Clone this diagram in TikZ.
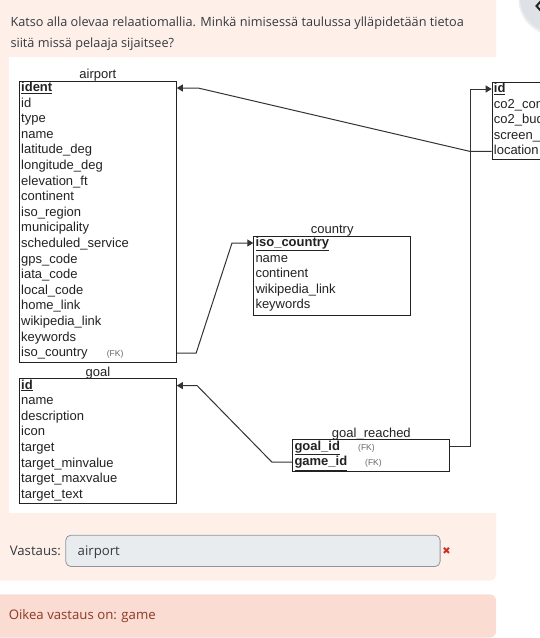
\documentclass[tikz,border=0pt]{standalone}
\usepackage{fontspec}
\setmainfont{Liberation Sans}
\newfontfamily\uifont{Open Sans}
\newfontfamily\symfont{DejaVu Sans}
\usetikzlibrary{arrows.meta,calc}

\definecolor{panelbg}{HTML}{FEF0E9}
\definecolor{alertbg}{HTML}{FADCD3}
\definecolor{alerttx}{HTML}{8C3A24}
\definecolor{uitext}{HTML}{343A40}
\definecolor{inputbg}{HTML}{E9ECEF}
\definecolor{inputbd}{HTML}{8F959E}
\definecolor{wrongred}{HTML}{CA3120}
\definecolor{ink}{HTML}{222222}
\definecolor{wire}{HTML}{333333}
\definecolor{fkgrey}{HTML}{666666}
\definecolor{navgrey}{HTML}{DEE2E6}

\newcommand\keyfield[1]{\underline{\textbf{#1}}}

\tikzset{
  tbl/.style={draw=ink, line width=1.1pt, anchor=north west, inner sep=0pt},
  tbltitle/.style={anchor=base, inner sep=0pt, font=\fontsize{13}{15}\selectfont, text=ink},
  field/.style={anchor=base west, inner sep=0pt, font=\fontsize{13}{15}\selectfont,
    text=ink, text height=9.5pt, text depth=2.5pt},
  fk/.style={anchor=base west, inner sep=0pt, font=\fontsize{8.5}{10}\selectfont, text=fkgrey},
  link/.style={draw=wire, line width=1pt, -{Triangle[length=6pt,width=7pt]}},
  ui/.style={anchor=base west, inner sep=0pt, font=\uifont\fontsize{13.2}{16}\selectfont, text=uitext},
  question/.style={ui, font=\uifont\fontsize{12.7}{16}\selectfont},
}

\begin{document}
\begin{tikzpicture}[x=1pt,y=-1pt]
\useasboundingbox (0,0) rectangle (540,638);
\clip (0,0) rectangle (540,638);

% page panels
\fill[panelbg, rounded corners=6pt] (-10,-10) rectangle (496,580.6);
\fill[white] (8.6,56.8) rectangle (550,513.3);
\fill[alertbg, rounded corners=6pt] (-10,594.4) rectangle (496,637.5);
\fill[black!7] (555,-1) circle (36.5);
\fill[navgrey] (555,-2) circle (35);
\draw[ink, line width=2pt] (541,1) -- (536.5,6) -- (541,11);

% question
\node[question] (q1) at (10.3,26.9) {Katso alla olevaa relaatiomallia. Minkä nimisessä taulussa ylläpidetään tietoa};
\node[question] (q2) at (10.3,47.8) {siitä missä pelaaja sijaitsee?};

% airport
\node[tbl, minimum width=156.7pt, minimum height=281pt] (ap) at (19,80.7) {};
\node[tbltitle] (ap-title) at ($(ap.north)+(0,-2.3)$) {airport};
\foreach \lbl [count=\i from 0] in {\keyfield{ident}, id, type, name, latitude\_deg,
    longitude\_deg, elevation\_ft, continent, iso\_region, municipality,
    scheduled\_service, gps\_code, iata\_code, local\_code, home\_link,
    wikipedia\_link, keywords, iso\_country}
  \node[field] (ap-\i) at ($(ap.north west)+(2,10.8+15.6*\i)$) {\lbl};
\node[fk] (ap-fk) at ($(ap-17.base west)+(85.7,0)$) {(FK)};

% goal
\node[tbl, minimum width=156.7pt, minimum height=125pt] (gl) at (19,378.3) {};
\node[tbltitle] (gl-title) at ($(gl.north)+(0,-2.3)$) {goal};
\foreach \lbl [count=\i from 0] in {\keyfield{id}, name, description, icon, target,
    target\_minvalue, target\_maxvalue, target\_text}
  \node[field] (gl-\i) at ($(gl.north west)+(2,10.8+15.6*\i)$) {\lbl};

% country
\node[tbl, minimum width=156.7pt, minimum height=79.3pt] (co) at (253.3,235.7) {};
\node[tbltitle] (co-title) at ($(co.north)+(0,-2.3)$) {country};
\foreach \lbl [count=\i from 0] in {\keyfield{iso\_country}, name, continent,
    wikipedia\_link, keywords}
  \node[field] (co-\i) at ($(co.north west)+(2,10.8+15.6*\i)$) {\lbl};

% goal_reached
\node[tbl, minimum width=157pt, minimum height=31.7pt] (gr) at (292.3,439.3) {};
\node[tbltitle] (gr-title) at ($(gr.north)+(0,-2.3)$) {goal\_reached};
\foreach \lbl [count=\i from 0] in {\keyfield{goal\_id}, \keyfield{game\_id}}
  \node[field] (gr-\i) at ($(gr.north west)+(2,10.8+15.6*\i)$) {\lbl};
\node[fk] (gr-fk0) at ($(gr-0.base west)+(63.7,0)$) {(FK)};
\node[fk] (gr-fk1) at ($(gr-1.base west)+(70.7,0)$) {(FK)};

% game
\node[tbl, minimum width=157pt, minimum height=77.6pt] (gm) at (491.7,81.7) {};
\foreach \lbl [count=\i from 0] in {\keyfield{id}, co2\_consumed, co2\_budget,
    screen\_name, location}
  \node[field] (gm-\i) at ($(gm.north west)+(2,10.8+15.6*\i)$) {\lbl};

% relations
\draw[link] (gm.west |- gm-4.center) -- ++(-21.7,0)
  -- ($(ap.east |- ap-0.center)+(21.3,0)$) -- (ap.east |- ap-0.center);
\draw[link] (gr.east |- gr-0.center) -- ($(gm.west |- gr-0.center)+(-21.7,0)$)
  -- ($(gm.west |- gm-0.center)+(-21.7,0)$) -- (gm.west |- gm-0.center);
\draw[link] (ap.east |- ap-17.center) -- ++(19.3,0)
  -- ($(co.west |- co-0.center)+(-21.3,0)$) -- (co.west |- co-0.center);
\draw[link] (gr.west |- gr-1.center) -- ++(-20.3,0)
  -- ($(gl.east |- gl-0.center)+(20.3,0)$) -- (gl.east |- gl-0.center);

% answer
\node[ui] (ans-lbl) at (9.6,555.6) {Vastaus:};
\node[draw=inputbd, fill=inputbg, rounded corners=5pt, anchor=north west,
  minimum width=374.3pt, minimum height=31.3pt, line width=0.8pt, inner sep=0pt]
  (ans) at (65.4,534.8) {};
\node[ui, text=uitext] (ans-text) at (77.5,555.6) {airport};
\node[font=\symfont\fontsize{10}{10}\selectfont, text=wrongred, inner sep=0pt]
  (wrong) at (446.6,550.6) {✖};

% feedback
\node[ui, text=alerttx] (right) at (8.6,619.5) {Oikea vastaus on: game};
\end{tikzpicture}
\end{document}
